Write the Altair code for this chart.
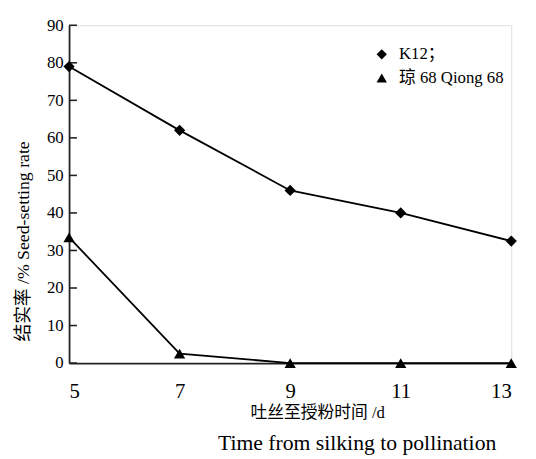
import altair as alt
import pandas as pd

days = [5, 7, 9, 11, 13]
k12 = [79, 62, 46, 40, 32.5]
qiong68 = [33.5, 2.5, 0, 0, 0]
series_names = ["K12；", "琼 68 Qiong 68"]
y_ticks = [0, 10, 20, 30, 40, 50, 60, 70, 80, 90]

FONT = "'Liberation Serif', 'Noto Sans CJK SC', serif"

rows = []
for d, v in zip(days, k12):
    rows.append({"day": d, "rate": v, "series": series_names[0]})
for d, v in zip(days, qiong68):
    rows.append({"day": d, "rate": v, "series": series_names[1]})
df = pd.DataFrame(rows)
ticks_df = pd.DataFrame({"rate": y_ticks})

x_scale = alt.Scale(domain=[5, 13], nice=False, zero=False)
y_scale = alt.Scale(domain=[0, 90], nice=False)

x_axis = alt.Axis(values=days, format="d", title="吐丝至授粉时间 /d", grid=False, ticks=False,
                  tickSize=0, labelPadding=18, labelFontSize=21, labelFont=FONT,
                  labelColor="black", domainColor="#222", domainWidth=1.8,
                  titleFont=FONT, titleFontSize=17, titleFontWeight="normal",
                  titleColor="black", titleX=252, titleY=50, titleBaseline="middle",
                  titleAnchor="start", titleAlign="center")
y_axis = alt.Axis(values=y_ticks, format="d", title="结实率 /% Seed-setting rate", grid=False,
                  ticks=False, tickSize=0, labelPadding=6, labelFontSize=17,
                  labelFont=FONT, labelColor="black", domainColor="#222",
                  domainWidth=1.8, titleFont=FONT, titleFontSize=18,
                  titleFontWeight="normal", titleColor="black", titleAngle=-90,
                  titleX=-41, titleY=219, titleAlign="center",
                  titleBaseline="alphabetic", titleAnchor="start")

lines = alt.Chart(df).mark_line(color="black", strokeWidth=1.8).encode(
    x=alt.X("day:Q", scale=x_scale, axis=x_axis),
    y=alt.Y("rate:Q", scale=y_scale, axis=y_axis),
    detail="series:N",
)

points = alt.Chart(df).mark_point(filled=True, color="black", opacity=1, size=130).encode(
    x=alt.X("day:Q", scale=x_scale, axis=x_axis),
    y=alt.Y("rate:Q", scale=y_scale, axis=y_axis),
    shape=alt.Shape("series:N",
                    scale=alt.Scale(domain=series_names, range=["diamond", "triangle-up"]),
                    legend=alt.Legend(title=None, orient="none", legendX=309, legendY=21,
                                      labelFont=FONT, labelFontSize=17, labelColor="black",
                                      symbolFillColor="black", symbolStrokeColor="black",
                                      symbolSize=110, labelOffset=9, rowPadding=6,
                                      padding=0)),
)

tick_marks = alt.Chart(ticks_df).mark_rule(color="#222", strokeWidth=1.6).encode(
    x=alt.value(0), x2=alt.value(8),
    y=alt.Y("rate:Q", scale=y_scale, axis=y_axis),
)

chart = alt.layer(lines, tick_marks, points).properties(
    width=449, height=343,
    autosize=alt.AutoSizeParams(type="none"),
    padding={"left": 62, "top": 14, "right": 17, "bottom": 102},
    title=alt.TitleParams(text="Time from silking to pollination", orient="bottom",
                          anchor="middle", font=FONT, fontSize=22, fontWeight="normal",
                          color="black", dx=68, offset=13),
).configure_view(stroke=None).configure(background="white", font=FONT)

chart.save("out.html", embed_options={"renderer": "svg", "actions": False})
